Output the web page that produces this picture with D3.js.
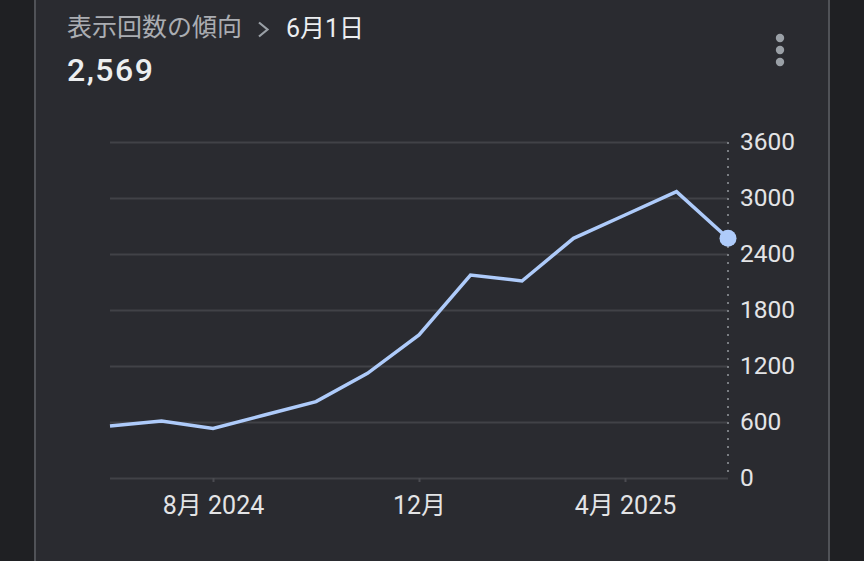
<!DOCTYPE html>
<html>
<head>
<meta charset="utf-8">
<script src="https://cdn.jsdelivr.net/npm/d3@7"></script>
<style>
  html, body { margin: 0; padding: 0; background: #1f2023; }
  svg { display: block; }
  text { font-family: Roboto, "Noto Sans CJK JP", sans-serif; }
</style>
</head>
<body>
<svg id="chart" width="864" height="561"></svg>
<script>
// ---- data ----
const months = ["2024-06","2024-07","2024-08","2024-09","2024-10","2024-11","2024-12",
                "2025-01","2025-02","2025-03","2025-04","2025-05","2025-06"];
const impressions = [557, 611, 530, 675, 818, 1122, 1532, 2175, 2111, 2568, 2818, 3068, 2569];
const yTickValues = [0, 600, 1200, 1800, 2400, 3000, 3600];
const xTickMonths = ["2024-08", "2024-12", "2025-04"];
const xTickLabels = ["8月 2024", "12月", "4月 2025"];
const titleText = "表示回数の傾向";
const dateText = "6月1日";
const currentValueText = "2,569";

// ---- layout ----
const svg = d3.select("#chart");
const W = 864, H = 561;
const plot = { left: 110, right: 728, top: 142, bottom: 478 };

// card background
svg.append("rect").attr("x", 0).attr("y", 0).attr("width", W).attr("height", H).attr("fill", "#1f2023");
svg.append("rect").attr("x", 35).attr("y", -20).attr("width", 794).attr("height", H + 40)
  .attr("fill", "#2a2b30").attr("stroke", "#505257").attr("stroke-width", 2);

// header
svg.append("text").attr("x", 67).attr("y", 36).attr("fill", "#aaadb2")
  .attr("font-size", 25).text(titleText);
svg.append("path").attr("d", "M259,22.5 L267.5,29.5 L259,36.5").attr("fill", "none")
  .attr("stroke", "#9aa0a6").attr("stroke-width", 2.2);
svg.append("text").attr("x", 286).attr("y", 36.5).attr("fill", "#eceef0")
  .attr("font-size", 25).text(dateText);
svg.append("text").attr("x", 67).attr("y", 81).attr("fill", "#eceef0")
  .attr("font-size", 32).attr("font-weight", 500).attr("letter-spacing", 1.5).text(currentValueText);

// menu dots
[38, 50, 62].forEach(cy => svg.append("circle").attr("cx", 780).attr("cy", cy).attr("r", 4.2).attr("fill", "#9aa0a6"));

// scales
const x = d3.scalePoint().domain(months).range([plot.left, plot.right]);
const y = d3.scaleLinear().domain([0, 3600]).range([plot.bottom, plot.top]);

// gridlines
const grid = svg.append("g").attr("transform", `translate(${plot.right},0)`)
  .call(d3.axisLeft(y).tickValues(yTickValues).tickSize(plot.right - plot.left).tickFormat(""));
grid.select(".domain").remove();
grid.selectAll("line").attr("stroke", "#414247").attr("stroke-width", 2);

// dotted vertical line at last point
svg.append("line").attr("x1", plot.right).attr("x2", plot.right)
  .attr("y1", plot.top).attr("y2", plot.bottom)
  .attr("stroke", "#7a7d82").attr("stroke-width", 2).attr("stroke-dasharray", "2,6");

// y axis labels
const yAxis = svg.append("g").attr("transform", `translate(${plot.right + 12},0)`)
  .call(d3.axisRight(y).tickValues(yTickValues).tickSize(0).tickPadding(0).tickFormat(d3.format("d")));
yAxis.select(".domain").remove();
yAxis.selectAll("text").attr("fill", "#e3e4e6").attr("font-size", 24.5)
  .attr("font-family", "Roboto, sans-serif");

// x axis
const xAxis = svg.append("g").attr("transform", `translate(0,${plot.bottom})`)
  .call(d3.axisBottom(x).tickValues(xTickMonths).tickSize(4).tickPadding(14)
    .tickFormat((d) => xTickLabels[xTickMonths.indexOf(d)]));
xAxis.select(".domain").remove();
xAxis.selectAll("line").attr("stroke", "#4a4b50").attr("stroke-width", 2);
xAxis.selectAll("text").attr("fill", "#e3e4e6").attr("font-size", 25)
  .attr("font-family", "Roboto, 'Noto Sans CJK JP', sans-serif");

// line
const line = d3.line().x((d, i) => x(months[i])).y(d => y(d));
svg.append("path").datum(impressions).attr("d", line)
  .attr("fill", "none").attr("stroke", "#aecbfa").attr("stroke-width", 3.5)
  .attr("stroke-linejoin", "miter");

// end marker
const last = impressions.length - 1;
svg.append("circle").attr("cx", x(months[last])).attr("cy", y(impressions[last]))
  .attr("r", 8.5).attr("fill", "#aecbfa");
</script>
</body>
</html>
